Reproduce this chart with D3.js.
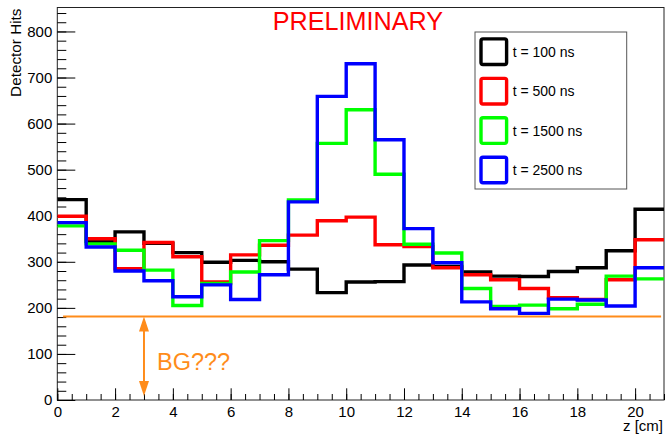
<!DOCTYPE html>
<html>
<head>
<meta charset="utf-8">
<script src="https://cdn.jsdelivr.net/npm/d3@7/dist/d3.min.js"></script>
<style>
  html, body { margin: 0; padding: 0; background: #fff; }
  svg { display: block; font-family: "Liberation Sans", Arial, Helvetica, sans-serif; }
</style>
</head>
<body>
<svg id="chart" width="667" height="435"></svg>
<script>
// Bin lower edges along z [cm], one entry per 1 cm bin
const binEdges = [0,1,2,3,4,5,6,7,8,9,10,11,12,13,14,15,16,17,18,19,20];
const binWidth = 1;

// Detector hits per bin for each time slice
const hits100  = [435, 344, 365, 340, 320, 299, 303, 300, 284, 233, 256, 257, 293, 290, 278, 269, 268, 279, 287, 324, 414];
const hits500  = [399, 350, 285, 342, 311, 256, 315, 336, 358, 389, 397, 337, 333, 287, 272, 261, 242, 222, 218, 261, 348];
const hits1500 = [378, 339, 325, 282, 205, 253, 278, 346, 434, 557, 630, 490, 338, 319, 242, 203, 206, 198, 208, 269, 263];
const hits2500 = [385, 332, 280, 259, 224, 250, 218, 272, 430, 659, 730, 565, 372, 298, 213, 198, 188, 219, 217, 204, 287];

const seriesNames  = ["t = 100 ns", "t = 500 ns", "t = 1500 ns", "t = 2500 ns"];
const seriesColors = ["#000000", "#ff0000", "#00ff00", "#0000ff"];
const seriesValues = [hits100, hits500, hits1500, hits2500];

// Axis ticks
const xMajorTicks = [0, 2, 4, 6, 8, 10, 12, 14, 16, 18, 20];
const xMinorTicks = d3.range(0, 21.01, 0.5);
const yMajorTicks = [0, 100, 200, 300, 400, 500, 600, 700, 800];
const yMinorTicks = d3.range(0, 841, 20);

// Background estimate and its annotation
const bgLevel = 181;
const bgLineFrom = 0.2, bgLineTo = 20.9;
const bgArrowZ = 3;
const bgLabel = "BG???";

const xDomain = [0, 21];
const yDomain = [0, 852];

const frame = { left: 57.3, right: 664, top: 7.5, bottom: 400 };

const svg = d3.select("#chart");
const x = d3.scaleLinear().domain(xDomain).range([frame.left, frame.right]);
const y = d3.scaleLinear().domain(yDomain).range([frame.bottom, frame.top]);

svg.append("defs").append("clipPath").attr("id", "plotclip")
  .append("rect")
  .attr("x", frame.left).attr("y", frame.top)
  .attr("width", frame.right - frame.left).attr("height", frame.bottom - frame.top);

// Frame
svg.append("rect")
  .attr("x", frame.left).attr("y", frame.top)
  .attr("width", frame.right - frame.left).attr("height", frame.bottom - frame.top)
  .attr("fill", "none").attr("stroke", "#222").attr("stroke-width", 1);

// X axis: ticks point into the frame
const xMinorAxis = d3.axisBottom(x).tickValues(xMinorTicks).tickSize(-6).tickFormat("");
const xMajorAxis = d3.axisBottom(x).tickValues(xMajorTicks).tickSize(-11.7).tickPadding(6).tickFormat(d3.format("d"));
svg.append("g").attr("transform", `translate(0,${frame.bottom})`).call(xMinorAxis).call(g => g.select(".domain").remove());
const gx = svg.append("g").attr("transform", `translate(0,${frame.bottom})`).call(xMajorAxis);
gx.select(".domain").remove();
gx.selectAll("text").attr("font-size", 15).attr("fill", "#000").attr("font-family", null);

// Y axis
const yMinorAxis = d3.axisLeft(y).tickValues(yMinorTicks).tickSize(-9).tickFormat("");
const yMajorAxis = d3.axisLeft(y).tickValues(yMajorTicks).tickSize(-18).tickPadding(5).tickFormat(d3.format("d"));
svg.append("g").attr("transform", `translate(${frame.left},0)`).call(yMinorAxis).call(g => g.select(".domain").remove());
const gy = svg.append("g").attr("transform", `translate(${frame.left},0)`).call(yMajorAxis);
gy.select(".domain").remove();
gy.selectAll("text").attr("font-size", 15).attr("fill", "#000").attr("font-family", null);

svg.selectAll(".tick line").attr("stroke", "#000").attr("stroke-width", 1);

// Axis titles
svg.append("text")
  .attr("transform", `translate(20.5,${frame.top + 1}) rotate(-90)`)
  .attr("text-anchor", "end")
  .attr("font-size", 15.3)
  .text("Detector Hits");

svg.append("text")
  .attr("x", frame.right - 1).attr("y", 431)
  .attr("text-anchor", "end")
  .attr("font-size", 15)
  .text("z [cm]");

// Histograms drawn as step outlines
const plot = svg.append("g").attr("clip-path", "url(#plotclip)");
function stepPoints(values) {
  const pts = [];
  values.forEach((v, i) => {
    pts.push([binEdges[i], v]);
    pts.push([binEdges[i] + binWidth, v]);
  });
  return pts;
}
const stepLine = d3.line().x(d => x(d[0])).y(d => y(d[1]));

seriesValues.forEach((vals, k) => {
  plot.append("path")
    .attr("d", stepLine(stepPoints(vals)))
    .attr("fill", "none")
    .attr("stroke", seriesColors[k])
    .attr("stroke-width", 3.4)
    .attr("stroke-linejoin", "miter");
});

// Background level line and arrow
const orange = "#ff8c1a";
svg.append("line")
  .attr("x1", x(bgLineFrom)).attr("x2", x(bgLineTo))
  .attr("y1", y(bgLevel)).attr("y2", y(bgLevel))
  .attr("stroke", orange).attr("stroke-width", 2);

const ax = x(bgArrowZ), aTop = y(bgLevel), aBot = y(0) - 4;
const headLen = 15, headHalf = 5;
svg.append("line")
  .attr("x1", ax).attr("x2", ax)
  .attr("y1", aTop + headLen - 1).attr("y2", aBot - headLen + 1)
  .attr("stroke", orange).attr("stroke-width", 2);
svg.append("path")
  .attr("d", `M${ax},${aTop} L${ax - headHalf},${aTop + headLen} L${ax + headHalf},${aTop + headLen} Z`)
  .attr("fill", orange);
svg.append("path")
  .attr("d", `M${ax},${aBot} L${ax - headHalf},${aBot - headLen} L${ax + headHalf},${aBot - headLen} Z`)
  .attr("fill", orange);

svg.append("text")
  .attr("x", 157).attr("y", 370)
  .attr("font-size", 23.5)
  .attr("fill", orange)
  .text(bgLabel);

// Title mark
svg.append("text")
  .attr("x", 272.7).attr("y", 30)
  .attr("font-size", 25.2)
  .attr("fill", "#ff0000")
  .text("PRELIMINARY");

// Legend
const legend = svg.append("g");
legend.append("rect")
  .attr("x", 475).attr("y", 32)
  .attr("width", 151.7).attr("height", 157)
  .attr("fill", "#fff").attr("stroke", "#555").attr("stroke-width", 1);

const legendY = d3.scalePoint().domain(seriesNames).range([51.7, 170]);
seriesNames.forEach((name, k) => {
  const cy = legendY(name);
  legend.append("rect")
    .attr("x", 481).attr("y", cy - 12.8)
    .attr("width", 25.6).attr("height", 25.6)
    .attr("rx", 2)
    .attr("fill", "none")
    .attr("stroke", seriesColors[k])
    .attr("stroke-width", 3.4);
  legend.append("text")
    .attr("x", 512.7).attr("y", cy + 5)
    .attr("font-size", 14)
    .text(name);
});
</script>
</body>
</html>
